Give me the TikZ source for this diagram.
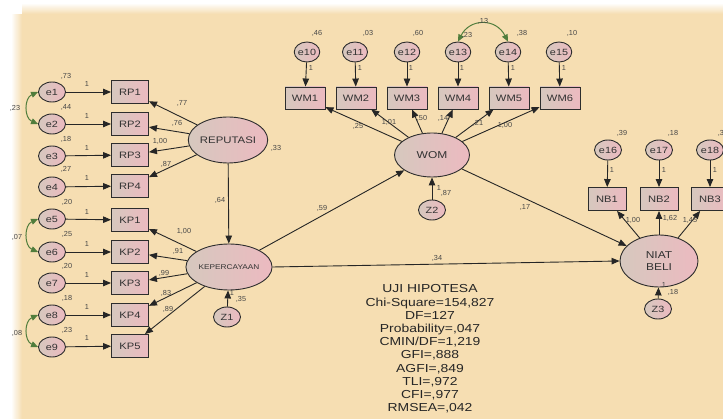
\documentclass[tikz,border=0pt]{standalone}
\usepackage{fontspec}
\setmainfont{Liberation Sans}
\newfontfamily\widefont[FakeStretch=1.2]{Liberation Sans}
\usetikzlibrary{arrows.meta,shapes.geometric}
\definecolor{bg}{RGB}{246,222,178}
\definecolor{fillL}{RGB}{214,200,190}
\definecolor{fillR}{RGB}{236,186,192}
\definecolor{edgec}{RGB}{45,45,45}
\definecolor{txt}{RGB}{50,50,50}
\definecolor{num}{RGB}{70,70,70}
\definecolor{covc}{RGB}{80,125,60}
\begin{document}
\begin{tikzpicture}[x=1pt,y=-1pt,
  errnode/.style={ellipse,draw=edgec,line width=0.9pt,left color=fillL,right color=fillR,minimum width=27pt,minimum height=20pt,inner sep=0pt,font=\widefont\fontsize{9}{10}\selectfont,text=txt},
  obsbox/.style={rectangle,draw=edgec,line width=0.9pt,left color=fillL,right color=fillR,minimum width=37pt,minimum height=23pt,inner sep=0pt,font=\widefont\fontsize{9.3}{10}\selectfont,text=txt},
  latent/.style={ellipse,draw=edgec,line width=0.9pt,left color=fillL,right color=fillR,inner sep=0pt,font=\widefont\fontsize{9.5}{10}\selectfont,text=txt,align=center},
  arr/.style={draw=black!85,line width=0.9pt,-{Triangle[length=8pt,width=6.5pt]}},
  cov/.style={draw=covc,line width=1pt,{Triangle[length=7pt,width=6pt]}-{Triangle[length=7pt,width=6pt]}},
  lbl/.style={font=\fontsize{7.3}{8}\selectfont,text=num,inner sep=0pt}
]
\useasboundingbox (0,0) rectangle (723,419);
% background
\fill[white] (0,0) rectangle (723,419);
\fill[bg] (22,14) rectangle (723,419);
\foreach \i in {0,...,9}{
  \fill[bg,opacity=(\i+1)/11] (22,4+\i) rectangle (723,5+\i);
  \fill[bg,opacity=(\i+1)/11] (12+\i,14) rectangle (13+\i,419);
}

% left error terms
\foreach \n/\y in {1/92,2/124,3/156,4/187,5/219,6/252,7/283,8/315,9/347}
  \node[errnode] (e\n) at (52,\y) {e\n};
% indicator boxes
\node[obsbox] (RP1) at (130,92) {RP1};
\node[obsbox] (RP2) at (130,124) {RP2};
\node[obsbox] (RP3) at (130,155) {RP3};
\node[obsbox] (RP4) at (130,186) {RP4};
\node[obsbox] (KP1) at (130,220) {KP1};
\node[obsbox] (KP2) at (130,252) {KP2};
\node[obsbox] (KP3) at (130,283) {KP3};
\node[obsbox] (KP4) at (130,315) {KP4};
\node[obsbox] (KP5) at (130,346) {KP5};

% latent variables
\node[latent,minimum width=75pt,minimum height=46pt] (REP) at (228,140) {REPUTASI};
\node[latent,minimum width=77pt,minimum height=46pt,font=\widefont\fontsize{6.9}{7}\selectfont] (KEP) at (229,267) {KEPERCAYAAN};
\node[latent,minimum width=75pt,minimum height=44pt,font=\widefont\fontsize{10}{10}\selectfont] (WOM) at (432,155) {WOM};
\node[latent,minimum width=78pt,minimum height=52pt,font=\widefont\fontsize{10}{12}\selectfont] (NIAT) at (659,261) {NIAT\\BELI};
\node[errnode] (Z1) at (227,317) {Z1};
\node[errnode] (Z2) at (432,210) {Z2};
\node[errnode] (Z3) at (658,309) {Z3};

% top
\foreach \n/\x in {10/307,11/355,12/407,13/458,14/508,15/559}
  \node[errnode,minimum width=25pt] (e\n) at (\x,52) {e\n};
\node[obsbox,minimum width=40pt,minimum height=22pt] (WM1) at (305,98) {WM1};
\node[obsbox,minimum width=40pt,minimum height=22pt] (WM2) at (356,98) {WM2};
\node[obsbox,minimum width=40pt,minimum height=22pt] (WM3) at (407,98) {WM3};
\node[obsbox,minimum width=40pt,minimum height=22pt] (WM4) at (458,98) {WM4};
\node[obsbox,minimum width=40pt,minimum height=22pt] (WM5) at (509,98) {WM5};
\node[obsbox,minimum width=40pt,minimum height=22pt] (WM6) at (560,98) {WM6};

% right
\foreach \n/\x in {16/608,17/659,18/710}
  \node[errnode] (e\n) at (\x,150) {e\n};
\node[obsbox,minimum width=38pt] (NB1) at (607,199) {NB1};
\node[obsbox,minimum width=38pt] (NB2) at (659,199) {NB2};
\node[obsbox,minimum width=38pt] (NB3) at (710,199) {NB3};

% error -> indicator arrows
\draw[arr] (e1) -- (RP1);
\draw[arr] (e2) -- (RP2);
\draw[arr] (e3) -- (RP3);
\draw[arr] (e4) -- (RP4);
\draw[arr] (e5) -- (KP1);
\draw[arr] (e6) -- (KP2);
\draw[arr] (e7) -- (KP3);
\draw[arr] (e8) -- (KP4);
\draw[arr] (e9) -- (KP5);
\draw[arr] (e10) -- (WM1);
\draw[arr] (e11) -- (WM2);
\draw[arr] (e12) -- (WM3);
\draw[arr] (e13) -- (WM4);
\draw[arr] (e14) -- (WM5);
\draw[arr] (e15) -- (WM6);
\draw[arr] (e16) -- (NB1);
\draw[arr] (e17) -- (NB2);
\draw[arr] (e18) -- (NB3);

% loadings
\foreach \b in {RP1,RP2,RP3,RP4} \draw[arr] (REP) -- (\b);
\foreach \b in {KP1,KP2,KP3,KP4,KP5} \draw[arr] (KEP) -- (\b);
\foreach \b in {WM1,WM2,WM3,WM4,WM5,WM6} \draw[arr] (WOM) -- (\b);
\foreach \b in {NB1,NB2,NB3} \draw[arr] (NIAT) -- (\b);

% structural
\draw[arr] (REP) -- (KEP);
\draw[arr] (KEP) -- (WOM);
\draw[arr] (KEP.east) -- (NIAT.west);
\draw[arr] (WOM) -- (NIAT);
\draw[arr] (Z1) -- (KEP);
\draw[arr] (Z2) -- (WOM);
\draw[arr] (Z3) -- (NIAT);

% covariances
\draw[cov] (e1.west) .. controls (24,98) and (24,118) .. (e2.west);
\draw[cov] (e5.west) .. controls (24,225) and (24,246) .. (e6.west);
\draw[cov] (e8.west) .. controls (24,321) and (24,341) .. (e9.west);
\draw[cov] (e13.north) .. controls (470,18) and (496,18) .. (e14.north);

% labels: variances
\node[lbl] (v1) at (66,76) {,73};
\node[lbl] (v2) at (66,107) {,44};
\node[lbl] (v3) at (66,139) {,18};
\node[lbl] (v4) at (66,169) {,27};
\node[lbl] (v5) at (67,202) {,20};
\node[lbl] (v6) at (67,234) {,25};
\node[lbl] (v7) at (67,266) {,20};
\node[lbl] (v8) at (67,298) {,18};
\node[lbl] (v9) at (67,330) {,23};
\node[lbl] (c12) at (15,108) {,23};
\node[lbl] (c56) at (17,237) {,07};
\node[lbl] (c89) at (17,333) {,08};
\foreach \y [count=\k] in {84,116,148,178,212,244,275,307,338}
  \node[lbl] (one\k) at (87,\y) {1};
% RP loadings
\node[lbl] (l1) at (182,103) {,77};
\node[lbl] (l2) at (177,123) {,76};
\node[lbl] (l3) at (160,141) {1,00};
\node[lbl] (l4) at (166,164) {,87};
\node[lbl] (rv) at (276,148) {,33};
\node[lbl] (rk) at (220,200) {,64};
% KP loadings
\node[lbl] (k1) at (184,231) {1,00};
\node[lbl] (k2) at (178,251) {,91};
\node[lbl] (k3) at (164,273) {,99};
\node[lbl] (k4) at (166,293) {,83};
\node[lbl] (k5) at (168,309) {,89};
\node[lbl] (z1a) at (232,293) {1};
\node[lbl] (z1b) at (241,299) {,35};
% top variances
\node[lbl] (v10) at (317,33) {,46};
\node[lbl] (v11) at (368,33) {,03};
\node[lbl] (v12) at (418,33) {,60};
\node[lbl] (v13) at (467,35) {,23};
\node[lbl] (v14) at (522,33) {,38};
\node[lbl] (v15) at (572,33) {,10};
\node[lbl] (c1314) at (483,21) {,13};
\foreach \x [count=\k] in {311,360,411,462,513,564}
  \node[lbl] (t\k) at (\x,68) {1};
% WM loadings
\node[lbl] (w1) at (358,126) {,25};
\node[lbl] (w2) at (389,122) {1,01};
\node[lbl] (w3) at (422,118) {,50};
\node[lbl] (w4) at (443,118) {,14};
\node[lbl] (w5) at (478,123) {,21};
\node[lbl] (w6) at (505,125) {1,00};
\node[lbl] (z2a) at (439,188) {1};
\node[lbl] (z2b) at (446,193) {,87};
% structural labels
\node[lbl] (s1) at (322,208) {,59};
\node[lbl] (s2) at (525,207) {,17};
\node[lbl] (s3) at (437,258) {,34};
% right labels
\node[lbl] (v16) at (622,133) {,39};
\node[lbl] (v17) at (673,133) {,18};
\node[lbl] (v18) at (721,133) {,3};
\node[lbl] (r1) at (612,170) {1};
\node[lbl] (r2) at (664,170) {1};
\node[lbl] (r3) at (715,170) {1};
\node[lbl] (n1) at (633,220) {1,00};
\node[lbl] (n2) at (670,218) {1,62};
\node[lbl] (n3) at (690,220) {1,45};
\node[lbl] (z3a) at (664,285) {1};
\node[lbl] (z3b) at (673,292) {,18};

% fit indices
\node[align=center,font=\widefont\fontsize{11.6}{13.2}\selectfont,text=black!85,inner sep=0pt] (fit) at (430,349)
 {UJI HIPOTESA\\Chi-Square=154,827\\DF=127\\Probability=,047\\CMIN/DF=1,219\\GFI=,888\\AGFI=,849\\TLI=,972\\CFI=,977\\RMSEA=,042};
\end{tikzpicture}
\end{document}
